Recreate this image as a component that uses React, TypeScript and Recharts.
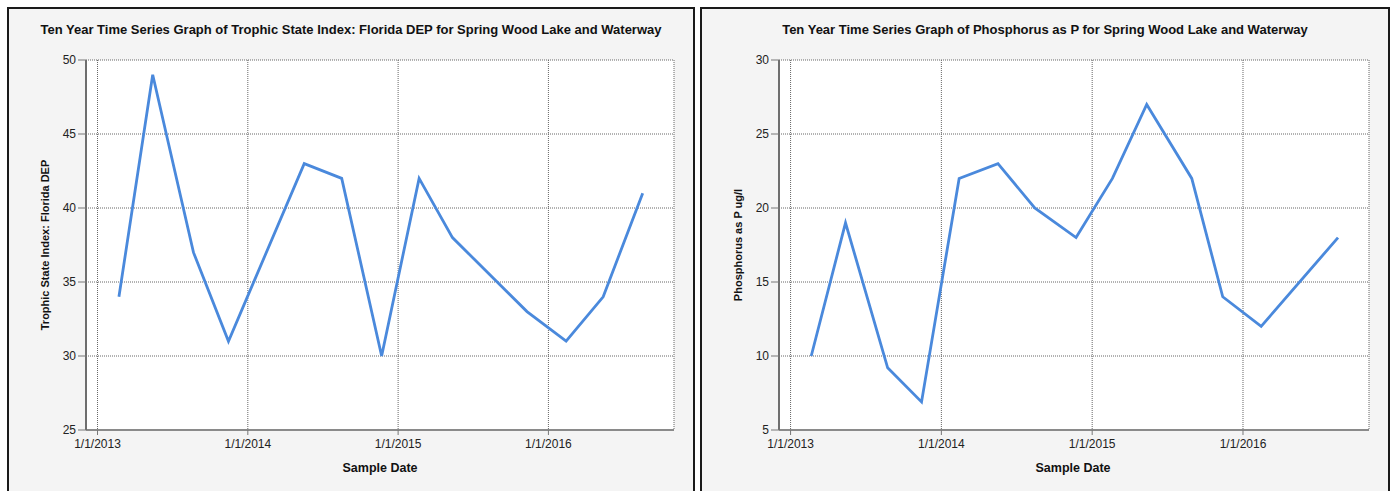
import React from 'react';
import { LineChart, Line, XAxis, YAxis, CartesianGrid } from 'recharts';

const tsiDates = ['2013-02-22', '2013-05-15', '2013-08-22', '2013-11-15', '2014-05-18', '2014-08-17', '2014-11-22', '2015-02-21', '2015-05-13', '2015-11-10', '2016-02-13', '2016-05-13', '2016-08-17'];
const tsiValues = [34, 49, 37, 31, 43, 42, 30, 42, 38, 33, 31, 34, 41];

const phosDates = ['2013-02-20', '2013-05-14', '2013-08-24', '2013-11-14', '2014-02-13', '2014-05-18', '2014-08-15', '2014-11-23', '2015-02-19', '2015-05-13', '2015-08-30', '2015-11-13', '2016-02-14', '2016-08-18'];
const phosValues = [10, 19, 9.2, 6.9, 22, 23, 20, 18, 22, 27, 22, 14, 12, 18];

const xTickLabels = ['1/1/2013', '1/1/2014', '1/1/2015', '1/1/2016'];
const tsiTicks = [25, 30, 35, 40, 45, 50];
const phosTicks = [5, 10, 15, 20, 25, 30];

const domainStart = '2012-12-04';
const domainEnd = '2016-11-01';

const labelToTime = (s: string) => {
  const [m, d, y] = s.split('/').map(Number);
  return Date.UTC(y, m - 1, d);
};
const xTicks = xTickLabels.map(labelToTime);
const xDomain = [Date.parse(domainStart), Date.parse(domainEnd)];
const fmt = (t: number) => {
  const d = new Date(t);
  return `${d.getUTCMonth() + 1}/${d.getUTCDate()}/${d.getUTCFullYear()}`;
};

const FONT = 'Arial, "Liberation Sans", sans-serif';

function Panel(props: {
  left: number;
  width: number;
  title: string;
  yLabel: string;
  dates: string[];
  values: number[];
  yTicks: number[];
}) {
  const { left, width, title, yLabel, dates, values, yTicks } = props;
  const data = dates.map((d, i) => ({ t: Date.parse(d), v: values[i] }));
  const inner = width - 4;
  const chartH = 480;
  const yDomain = [yTicks[0], yTicks[yTicks.length - 1]];
  return (
    <div
      style={{
        position: 'absolute',
        left,
        top: 7,
        width: inner,
        height: 500,
        border: '2px solid #1a1a1a',
        background: '#f4f4f4',
        fontFamily: FONT,
      }}
    >
      <div
        style={{
          position: 'absolute',
          left: 0,
          top: 13,
          width: inner,
          textAlign: 'center',
          fontSize: 13,
          fontWeight: 'bold',
          color: '#111',
          lineHeight: '16px',
        }}
      >
        {title}
      </div>
      <div style={{ position: 'absolute', left: 0, top: 0 }}>
        <LineChart
          width={inner}
          height={chartH}
          data={data}
          margin={{ top: 51, right: 19, left: 0, bottom: 29 }}
        >
          <CartesianGrid fill="#ffffff" stroke="#666" strokeDasharray="1 1" />
          <XAxis
            dataKey="t"
            type="number"
            scale="time"
            domain={xDomain}
            ticks={xTicks}
            tickFormatter={fmt}
            height={30}
            tickSize={5}
            tickMargin={4}
            interval={0}
            allowDataOverflow
            axisLine={{ stroke: '#8a8a8a', strokeWidth: 2 }}
            tickLine={{ stroke: '#777' }}
            tick={{ fill: '#222', fontSize: 12, fontFamily: FONT }}
          />
          <XAxis
            xAxisId="top"
            orientation="top"
            type="number"
            domain={xDomain}
            height={0}
            tick={false}
            tickLine={false}
            axisLine={{ stroke: '#111', strokeWidth: 2 }}
          />
          <YAxis
            type="number"
            domain={yDomain}
            ticks={yTicks}
            width={77}
            tickSize={8}
            tickMargin={2}
            interval={0}
            allowDataOverflow
            axisLine={{ stroke: '#6e6e6e', strokeWidth: 2 }}
            tickLine={{ stroke: '#777' }}
            tick={{ fill: '#222', fontSize: 12, fontFamily: FONT }}
          />
          <YAxis
            yAxisId="right"
            orientation="right"
            type="number"
            domain={yDomain}
            width={0}
            tick={false}
            tickLine={false}
            axisLine={{ stroke: '#8a8a8a', strokeWidth: 2 }}
          />
          <Line
            type="linear"
            dataKey="v"
            stroke="#4a89dc"
            strokeWidth={2.8}
            dot={false}
            activeDot={false}
            isAnimationActive={false}
          />
        </LineChart>
      </div>
      <div
        style={{
          position: 'absolute',
          left: 77,
          top: 451,
          width: 588,
          textAlign: 'center',
          fontSize: 12.5,
          fontWeight: 'bold',
          color: '#111',
          lineHeight: '16px',
        }}
      >
        Sample Date
      </div>
      <div
        style={{
          position: 'absolute',
          left: 36 - 150,
          top: 236 - 7,
          width: 300,
          textAlign: 'center',
          fontSize: 11,
          fontWeight: 'bold',
          color: '#111',
          lineHeight: '14px',
          transform: 'rotate(-90deg)',
          transformOrigin: '150px 7px',
        }}
      >
        {yLabel}
      </div>
    </div>
  );
}

export default function App() {
  return (
    <div
      style={{
        position: 'absolute',
        left: 0,
        top: 0,
        width: 1391,
        height: 491,
        overflow: 'hidden',
        background: '#fff',
      }}
    >
      <Panel
        left={7}
        width={688}
        title="Ten Year Time Series Graph of Trophic State Index: Florida DEP for Spring Wood Lake and Waterway"
        yLabel="Trophic State Index: Florida DEP"
        dates={tsiDates}
        values={tsiValues}
        yTicks={tsiTicks}
      />
      <Panel
        left={700}
        width={690}
        title="Ten Year Time Series Graph of Phosphorus as P for Spring Wood Lake and Waterway"
        yLabel="Phosphorus as P ug/l"
        dates={phosDates}
        values={phosValues}
        yTicks={phosTicks}
      />
    </div>
  );
}
